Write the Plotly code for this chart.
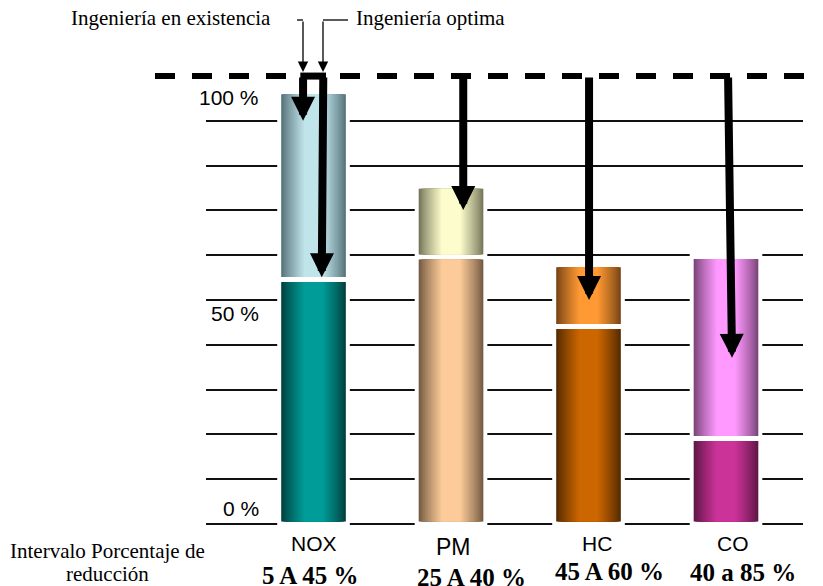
import plotly.graph_objects as go

# ---------------- data ----------------
categories = ["NOX", "PM", "HC", "CO"]
lower_top = [54.6, 59.6, 44.1, 19.1]      # top of darker (lower) segment, %
upper_top = [96.5, 75.4, 57.9, 59.7]      # top of lighter (upper) segment, %
optima_tip = [55.1, 70.1, 50.0, 37.1]     # "Ingeniería optima" arrow ends, %
existencia_tip = [90.0]                   # "Ingeniería en existencia" arrow end (NOX), %
reference_level = 100                     # dashed line level, %
reduction_labels = ["5 A 45 %", "25 A 40 %", "45 A 60 %", "40 a 85 %"]
y_label_text = ["0 %", "50 %", "100 %"]
y_label_vals = [0, 50, 100]
grid_vals = [0, 10, 20, 30, 40, 50, 60, 70, 80, 90]

# ---------------- style ----------------
lower_center = ["#009C98", "#FCCB99", "#CC6600", "#CC3399"]
lower_edge = ["#00403E", "#735A42", "#542A00", "#5E1645"]
upper_center = ["#BFE4E9", "#FCFCCC", "#FF9933", "#FF99FF"]
upper_edge = ["#56717A", "#76765A", "#774515", "#7A4579"]
BAR_W = 0.47
PX_PER_UNIT = 4.48
GAP = 5 / PX_PER_UNIT
N_STRIPES = 16

OFF = 8                      # page body margin
W_PX, H_PX = 823 - OFF, 586 - OFF
L, R, T, B = 206 - OFF, 20, 72 - OFF, 586 - 529
PLOT_W = W_PX - L - R
PLOT_H = H_PX - T - B


def px(x):          # reference-screen pixel -> paper
    return (x - OFF - L) / PLOT_W


def py(y):
    return (H_PX - B - (y - OFF)) / PLOT_H


def hex2rgb(h):
    h = h.lstrip("#")
    return [int(h[i:i + 2], 16) for i in (0, 2, 4)]


def mix(c1, c2, t):
    a, b = hex2rgb(c1), hex2rgb(c2)
    return "rgb(%d,%d,%d)" % tuple(round(a[i] + (b[i] - a[i]) * t) for i in range(3))


fig = go.Figure()

# white halo behind each stack (hides the grid lines next to the bars)
fig.add_trace(go.Bar(x=categories, y=upper_top, base=[0] * 4, width=BAR_W,
                     marker=dict(color="white", line=dict(color="white", width=8)),
                     hoverinfo="skip", showlegend=False))

segments = [
    ([0] * 4, lower_top, lower_edge, lower_center),
    (lower_top, upper_top, upper_edge, upper_center),
]
for bases, tops, edges, centers in segments:
    seg_base = [b + GAP / 2 for b in bases]
    seg_h = [t - b - GAP for b, t in zip(bases, tops)]
    for k in range(N_STRIPES):
        t = k / (N_STRIPES - 1)
        m = t ** 0.85
        cols = [mix(e, c, m) for e, c in zip(edges, centers)]
        fig.add_trace(go.Bar(x=categories, y=seg_h, base=seg_base,
                             width=BAR_W * (1 - 0.7 * t),
                             marker=dict(color=cols, line=dict(width=0)),
                             hoverinfo="skip", showlegend=False))

annotations = []
shapes = []

# big arrows from the reference line
tail_dx = [0.071, 0.089, 0.004, 0.015]
tip_dx = [0.060, 0.089, 0.004, 0.044]
for i, tip in enumerate(optima_tip):
    annotations.append(dict(x=i + tip_dx[i], y=tip, ax=i + tail_dx[i], ay=reference_level,
                            xref="x", yref="y", axref="x", ayref="y", text="",
                            showarrow=True, arrowhead=2, arrowsize=0.6, arrowwidth=8,
                            arrowcolor="black", standoff=0, startstandoff=0))
ex_dx = -0.076
annotations.append(dict(x=ex_dx, y=existencia_tip[0], ax=ex_dx, ay=reference_level,
                        xref="x", yref="y", axref="x", ayref="y", text="",
                        showarrow=True, arrowhead=2, arrowsize=0.6, arrowwidth=8,
                        arrowcolor="black", standoff=0, startstandoff=0))
# bracket joining the two NOX arrows
shapes.append(dict(type="line", xref="x", yref="y", x0=ex_dx - 0.02, x1=tail_dx[0] + 0.02,
                   y0=reference_level, y1=reference_level,
                   line=dict(color="black", width=7), layer="above"))

# dashed reference line
shapes.append(dict(type="line", xref="paper", yref="y", x0=px(155), x1=px(830),
                   y0=reference_level, y1=reference_level,
                   line=dict(color="black", width=6, dash="20px,17px"), layer="above"))

# callout labels at the top
serif = "Liberation Serif, Times New Roman, serif"
sans = "Liberation Sans, Arial, sans-serif"
annotations.append(dict(x=px(273), y=py(18), xref="paper", yref="paper", xanchor="right",
                        yanchor="middle", text="Ingeniería en existencia", showarrow=False,
                        font=dict(family=serif, size=21, color="black")))
annotations.append(dict(x=px(354), y=py(18), xref="paper", yref="paper", xanchor="left",
                        yanchor="middle", text="Ingeniería optima", showarrow=False,
                        font=dict(family=serif, size=21, color="black")))
for xa, xb in ((297, 303), (348, 323)):
    shapes.append(dict(type="line", xref="paper", yref="paper", x0=px(xa), x1=px(xb),
                       y0=py(20), y1=py(20), line=dict(color="black", width=1.3)))
    annotations.append(dict(x=px(xb), y=py(72), xref="paper", yref="paper", ax=0, ay=-52,
                            text="", showarrow=True, arrowhead=2, arrowsize=1.6,
                            arrowwidth=1.3, arrowcolor="black", standoff=0))

# y labels
y_shift = [16, -13, -21]
for txt, v, s in zip(y_label_text, y_label_vals, y_shift):
    annotations.append(dict(x=px(261), y=v, xref="paper", yref="y", xanchor="right",
                            yanchor="middle", yshift=s, text=txt, showarrow=False,
                            font=dict(family=sans, size=21, color="black")))

# category + reduction labels
cat_shift = [0.5, 2, 8.5, 7]
cat_y = [543, 547, 543, 543]
cat_size = [21, 23, 21, 21]
red_shift = [-3.5, 20, 20.5, 17]
red_y = [575, 577, 571, 572]
for i, c in enumerate(categories):
    annotations.append(dict(x=i, y=py(cat_y[i]), xref="x", yref="paper", xshift=cat_shift[i],
                            xanchor="center", yanchor="middle", text=c, showarrow=False,
                            font=dict(family=sans, size=cat_size[i], color="black")))
    annotations.append(dict(x=i, y=py(red_y[i]), xref="x", yref="paper", xshift=red_shift[i],
                            xanchor="center", yanchor="middle", text="<b>%s</b>" % reduction_labels[i],
                            showarrow=False, font=dict(family=serif, size=25, color="black")))

annotations.append(dict(x=px(107), y=py(551), xref="paper", yref="paper", xanchor="center",
                        yanchor="middle", text="Intervalo Porcentaje de", showarrow=False,
                        font=dict(family=serif, size=21, color="black")))
annotations.append(dict(x=px(107), y=py(574), xref="paper", yref="paper", xanchor="center",
                        yanchor="middle", text="reducción", showarrow=False,
                        font=dict(family=serif, size=21, color="black")))

y0 = -1.1
fig.update_layout(
    width=W_PX, height=H_PX,
    margin=dict(l=L, r=R, t=T, b=B, pad=0),
    paper_bgcolor="white", plot_bgcolor="white",
    barmode="overlay",
    showlegend=False,
    xaxis=dict(type="category", range=[-0.782, 3.56], showticklabels=False, showgrid=False,
               zeroline=False, showline=False, ticks=""),
    yaxis=dict(range=[y0, y0 + PLOT_H / PX_PER_UNIT], tickmode="array", tickvals=grid_vals,
               showticklabels=False, showgrid=True, gridcolor="#111111", gridwidth=2,
               zeroline=False, showline=False, ticks=""),
    annotations=annotations,
    shapes=shapes,
)

fig.write_html("out.html")
